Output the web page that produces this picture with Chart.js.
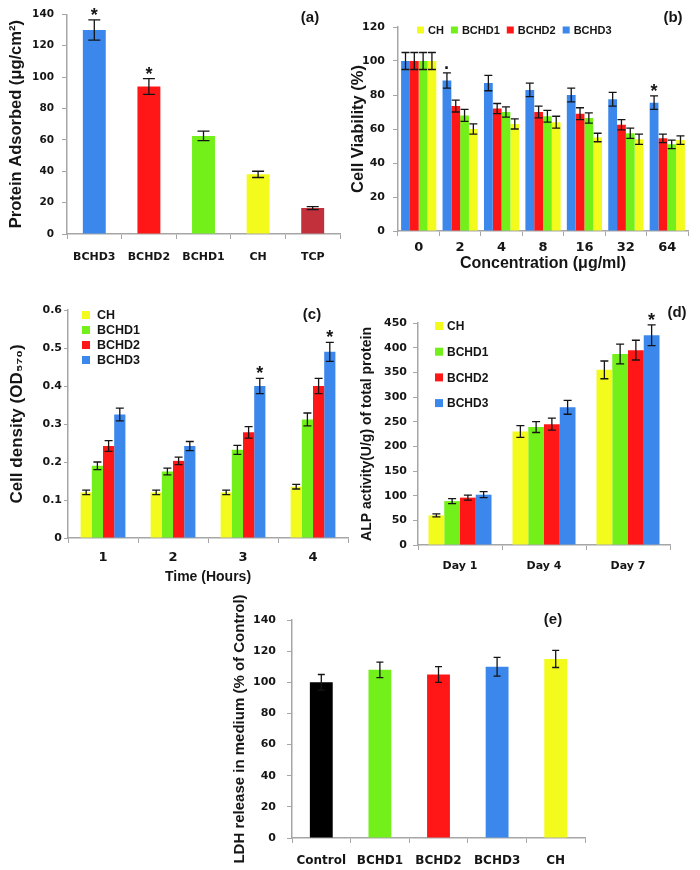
<!DOCTYPE html>
<html>
<head>
<meta charset="utf-8">
<script src="https://cdn.jsdelivr.net/npm/chart.js@4.4.1/dist/chart.umd.min.js"></script>
<style>
  body { margin: 0; background: #fff; width: 700px; height: 870px; position: relative; overflow: hidden; }
  canvas { position: absolute; }
</style>
</head>
<body>
<canvas id="chartA" width="345" height="290" style="left:0;top:0"></canvas>
<canvas id="chartB" width="355" height="290" style="left:345px;top:0"></canvas>
<canvas id="chartC" width="350" height="300" style="left:0;top:290px"></canvas>
<canvas id="chartD" width="350" height="300" style="left:350px;top:290px"></canvas>
<canvas id="chartE" width="380" height="280" style="left:220px;top:590px"></canvas>

<script>
// ================= DATA =================

// (a) protein adsorbed
const catsA = ["BCHD3", "BCHD2", "BCHD1", "CH", "TCP"];
const valsA = [130, 94, 62.5, 38, 16.5];
const errA = [6.5, 5, 3, 2, 1];
const marksA = ["*", "*", "", "", ""];

// (b) cell viability vs concentration
const catsB = ["0", "2", "4", "8", "16", "32", "64"];
const bchd3B = [100, 88.5, 87, 83, 80, 77.5, 75.5];
const bchd3ErrB = [5, 4.5, 4.5, 4, 4, 4, 4];
const bchd2B = [100, 73.5, 72, 70, 69, 62.5, 54.5];
const bchd2ErrB = [5, 3.5, 3, 3.5, 3.5, 3, 2.5];
const bchd1B = [100, 68, 70, 67.5, 66.5, 57.5, 51];
const bchd1ErrB = [5, 3.5, 3, 3.5, 3, 3, 2.5];
const chB = [100, 60, 63, 64, 55, 54, 53.5];
const chErrB = [5, 3, 3, 3.5, 2.5, 3, 2.5];
const marksB = ["", "·", "", "", "", "", "*"];

// (c) cell density
const catsC = ["1", "2", "3", "4"];
const chC = [0.12, 0.12, 0.12, 0.135];
const chErrC = [0.006, 0.006, 0.006, 0.006];
const bchd1C = [0.19, 0.175, 0.232, 0.312];
const bchd1ErrC = [0.01, 0.009, 0.012, 0.017];
const bchd2C = [0.242, 0.203, 0.278, 0.40];
const bchd2ErrC = [0.014, 0.01, 0.015, 0.02];
const bchd3C = [0.325, 0.242, 0.40, 0.49];
const bchd3ErrC = [0.017, 0.012, 0.02, 0.025];
const marksC = ["", "", "*", "*"];

// (d) ALP activity
const catsD = ["Day 1", "Day 4", "Day 7"];
const chD = [60, 230, 355];
const chErrD = [3, 12, 18];
const bchd1D = [89, 239, 387];
const bchd1ErrD = [5, 11, 20];
const bchd2D = [96, 245, 395];
const bchd2ErrD = [5, 12, 20];
const bchd3D = [102, 279, 425];
const bchd3ErrD = [6, 14, 21];
const marksD = ["", "", "*"];

// (e) LDH release
const catsE = ["Control", "BCHD1", "BCHD2", "BCHD3", "CH"];
const valsE = [100, 108, 105, 110, 115];
const errE = [5, 5, 5, 6, 5.5];

// ================= STYLE =================
const BLUE = "#3b87ec";
const RED = "#ff1717";
const GREEN = "#73f01a";
const YELLOW = "#f3fb1c";
const DARKRED = "#c2303c";
const BLACK = "#000000";
const INK = "#151515";
const AXIS = "#a6a6a6";
const TICK_FONT = "'DejaVu Sans', Verdana, sans-serif";
const TITLE_FONT = "'Liberation Sans', Arial, sans-serif";

// ================= PLUGIN: error bars, marks, legend, tag =================
const decoPlugin = {
  id: "deco",
  afterDatasetsDraw(chart, args, opts) {
    const ctx = chart.ctx;
    const yScale = chart.scales.y;
    ctx.save();
    ctx.strokeStyle = INK;
    ctx.lineWidth = 1.3;
    ctx.fillStyle = INK;
    ctx.textAlign = "center";
    ctx.textBaseline = "alphabetic";
    ctx.font = "bold 18px " + TITLE_FONT;

    chart.data.datasets.forEach((ds, i) => {
      const meta = chart.getDatasetMeta(i);
      meta.data.forEach((bar, j) => {
        const v = ds.data[j];
        const e = ds.errors ? ds.errors[j] : 0;
        const top = yScale.getPixelForValue(v + e);
        const bot = yScale.getPixelForValue(v - e);
        if (e) {
          ctx.beginPath();
          ctx.moveTo(bar.x, top);
          ctx.lineTo(bar.x, bot);
          ctx.moveTo(bar.x - opts.cap, top);
          ctx.lineTo(bar.x + opts.cap, top);
          ctx.moveTo(bar.x - opts.cap, bot);
          ctx.lineTo(bar.x + opts.cap, bot);
          ctx.stroke();
        }
        const mark = ds.marks ? ds.marks[j] : "";
        if (mark) ctx.fillText(mark, bar.x, top + 1);
      });
    });

    // legend
    if (opts.legend) {
      const L = opts.legend;
      ctx.font = "bold " + L.size + "px " + TITLE_FONT;
      ctx.textAlign = "left";
      ctx.textBaseline = "middle";
      let x = L.x, y = L.y;
      L.order.forEach((i) => {
        const ds = chart.data.datasets[i];
        ctx.fillStyle = ds.backgroundColor;
        ctx.fillRect(x, y - L.box / 2, L.box, L.box);
        ctx.fillStyle = INK;
        ctx.fillText(ds.label, x + L.box + L.gap, y + 1);
        if (L.row) x += L.box + L.gap + ctx.measureText(ds.label).width + L.space;
        else y += L.space;
      });
    }

    // panel tag
    ctx.font = "bold 15px " + TITLE_FONT;
    ctx.textAlign = "center";
    ctx.textBaseline = "middle";
    ctx.fillStyle = INK;
    ctx.fillText(opts.tag[0], opts.tag[1], opts.tag[2]);
    ctx.restore();
  }
};

// ================= HELPER =================
function barPanel(id, p) {
  return new Chart(document.getElementById(id), {
    type: "bar",
    data: { labels: p.labels, datasets: p.datasets },
    plugins: [decoPlugin],
    options: {
      responsive: false,
      animation: false,
      devicePixelRatio: 1,
      categoryPercentage: p.cat,
      barPercentage: p.bar,
      layout: { padding: { top: p.top, right: p.right, left: 0, bottom: 0 } },
      plugins: {
        legend: { display: false },
        tooltip: { enabled: false },
        deco: { cap: p.cap, legend: p.legend, tag: p.tag }
      },
      scales: {
        x: {
          grid: { drawOnChartArea: false, color: AXIS, tickLength: 5, offset: true },
          border: { color: AXIS, width: 1.5 },
          ticks: {
            color: INK, autoSkip: false, maxRotation: 0, padding: p.xPad,
            font: { family: TICK_FONT, weight: "bold", size: p.xSize }
          },
          title: {
            display: !!p.xTitle, text: p.xTitle || "", color: INK,
            font: { family: TITLE_FONT, weight: "bold", size: p.xTitleSize || 14 },
            padding: { top: 0, bottom: p.xTitlePad || 0 }
          },
          afterFit: (s) => { s.height = p.xH; }
        },
        y: {
          min: 0, max: p.max,
          grid: { drawOnChartArea: false, color: AXIS, tickLength: p.yTick || 5 },
          border: { color: AXIS, width: 1.5 },
          ticks: {
            stepSize: p.step, color: INK, padding: p.yPad,
            font: { family: TICK_FONT, weight: "bold", size: p.ySize }
          },
          title: {
            display: true, text: p.yTitle, color: INK,
            font: { family: TITLE_FONT, weight: "bold", size: p.yTitleSize },
            padding: { top: p.yTitlePad, bottom: 0 }
          },
          afterFit: (s) => { s.width = p.yW; }
        }
      }
    }
  });
}

// ================= (a) =================
barPanel("chartA", {
  labels: catsA,
  datasets: [{
    label: "Protein", data: valsA, errors: errA, marks: marksA,
    backgroundColor: [BLUE, RED, GREEN, YELLOW, DARKRED]
  }],
  cat: 1, bar: 0.42, top: 12, right: 5, yW: 67, xH: 56,
  max: 140, step: 20, xSize: 11, ySize: 10.5, xPad: 12, yPad: 8,
  yTitle: "Protein Adsorbed (μg/cm²)", yTitleSize: 16.5, yTitlePad: 7,
  cap: 6, tag: ["(a)", 310, 18]
});

// ================= (b) =================
barPanel("chartB", {
  labels: catsB,
  datasets: [
    { label: "BCHD3", data: bchd3B, errors: bchd3ErrB, marks: marksB, backgroundColor: BLUE },
    { label: "BCHD2", data: bchd2B, errors: bchd2ErrB, backgroundColor: RED },
    { label: "BCHD1", data: bchd1B, errors: bchd1ErrB, backgroundColor: GREEN },
    { label: "CH", data: chB, errors: chErrB, backgroundColor: YELLOW }
  ],
  cat: 0.85, bar: 1, top: 27, right: 12, yW: 53, xH: 59,
  max: 120, step: 20, xSize: 13, ySize: 11, xPad: 4, yPad: 8,
  xTitle: "Concentration (μg/ml)", xTitleSize: 16, xTitlePad: 17,
  yTitle: "Cell Viability (%)", yTitleSize: 16.5, yTitlePad: 4,
  cap: 4, tag: ["(b)", 328, 18],
  legend: { x: 72, y: 30, box: 7, gap: 4, space: 7, size: 11, row: true, order: [3, 2, 1, 0] }
});

// ================= (c) =================
barPanel("chartC", {
  labels: catsC,
  datasets: [
    { label: "CH", data: chC, errors: chErrC, backgroundColor: YELLOW },
    { label: "BCHD1", data: bchd1C, errors: bchd1ErrC, backgroundColor: GREEN },
    { label: "BCHD2", data: bchd2C, errors: bchd2ErrC, backgroundColor: RED },
    { label: "BCHD3", data: bchd3C, errors: bchd3ErrC, marks: marksC, backgroundColor: BLUE }
  ],
  cat: 0.64, bar: 1, top: 20, right: 2, yW: 68, xH: 52,
  max: 0.6, step: 0.1, xSize: 13, ySize: 11, xPad: 7, yPad: 2, yTick: 4,
  xTitle: "Time (Hours)", xTitleSize: 14, xTitlePad: 4,
  yTitle: "Cell density (OD₅₇₀)", yTitleSize: 17, yTitlePad: 7,
  cap: 4, tag: ["(c)", 312, 25],
  legend: { x: 82, y: 25, box: 8, gap: 7, space: 15, size: 12.5, row: false, order: [0, 1, 2, 3] }
});

// ================= (d) =================
barPanel("chartD", {
  labels: catsD,
  datasets: [
    { label: "CH", data: chD, errors: chErrD, backgroundColor: YELLOW },
    { label: "BCHD1", data: bchd1D, errors: bchd1ErrD, backgroundColor: GREEN },
    { label: "BCHD2", data: bchd2D, errors: bchd2ErrD, backgroundColor: RED },
    { label: "BCHD3", data: bchd3D, errors: bchd3ErrD, marks: marksD, backgroundColor: BLUE }
  ],
  cat: 0.75, bar: 1, top: 33, right: 30, yW: 68, xH: 45,
  max: 450, step: 50, xSize: 11, ySize: 11, xPad: 10, yPad: 6,
  yTitle: "ALP activity(U/g) of total protein", yTitleSize: 14, yTitlePad: 9,
  cap: 4, tag: ["(d)", 327, 23],
  legend: { x: 85, y: 36, box: 8, gap: 4, space: 25.7, size: 12, row: false, order: [0, 1, 2, 3] }
});

// ================= (e) =================
barPanel("chartE", {
  labels: catsE,
  datasets: [{
    label: "LDH", data: valsE, errors: errE,
    backgroundColor: [BLACK, GREEN, RED, BLUE, YELLOW]
  }],
  cat: 1, bar: 0.39, top: 30, right: 15, yW: 72, xH: 32,
  max: 140, step: 20, xSize: 12, ySize: 11, xPad: 11, yPad: 11,
  yTitle: "LDH release in medium (% of Control)", yTitleSize: 15, yTitlePad: 11,
  cap: 3.5, tag: ["(e)", 333, 30]
});
</script>
</body>
</html>
